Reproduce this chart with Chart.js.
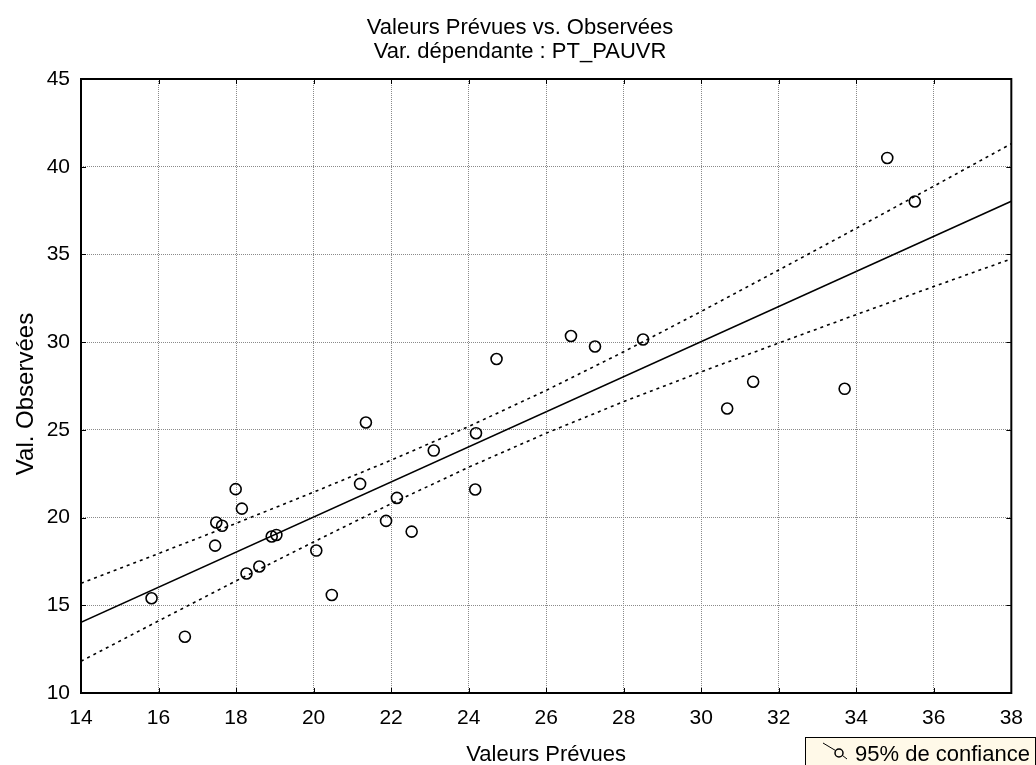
<!DOCTYPE html>
<html>
<head>
<meta charset="utf-8">
<script src="https://cdn.jsdelivr.net/npm/chart.js@4.4.1/dist/chart.umd.min.js"></script>
<style>
  html, body { margin: 0; padding: 0; background: #fff; }
  #wrap { width: 1036px; height: 765px; }
</style>
</head>
<body>
<div id="wrap"><canvas id="chart" width="1036" height="765"></canvas></div>
<script>
var predicted = [15.82, 16.68, 17.46, 17.49, 17.64, 17.99, 18.15, 18.27, 18.60, 18.92,
                 19.04, 20.07, 20.47, 21.20, 21.35, 21.87, 22.15, 22.53, 23.10, 24.19,
                 24.17, 24.72, 26.64, 27.26, 28.50, 30.67, 31.34, 33.70, 34.80, 35.51];
var observed  = [15.40, 13.21, 18.40, 19.72, 19.53, 21.62, 20.51, 16.81, 17.21, 18.92,
                 19.01, 18.12, 15.59, 21.92, 25.42, 19.81, 21.12, 19.20, 23.82, 24.81,
                 21.60, 29.04, 30.35, 29.75, 30.15, 26.22, 27.74, 27.34, 40.50, 38.02];

// fitted line and 95% band
var fitX  = [14, 38];
var fitY  = [14.03, 38.03];
var bandX = [14, 16, 18, 20, 22, 24, 26, 28, 30, 32, 34, 36, 38];
var upper = [16.25, 17.95, 19.67, 21.45, 23.27, 25.19, 27.25, 29.45, 31.75, 34.11, 36.49, 38.89, 41.31];
var lower = [11.81, 14.11, 16.39, 18.61, 20.79, 22.87, 24.81, 26.61, 28.31, 29.95, 31.57, 33.17, 34.75];

var xTicks = [14, 16, 18, 20, 22, 24, 26, 28, 30, 32, 34, 36, 38];
var yTicks = [10, 15, 20, 25, 30, 35, 40, 45];

var FONT = '"Liberation Sans", Arial, sans-serif';

function pairs(xs, ys) {
    return xs.map(function (x, i) { return { x: x, y: ys[i] }; });
}

var decor = {
    id: 'decor',
    afterDraw: function (chart) {
        var ctx = chart.ctx;
        var a = chart.chartArea;
        ctx.save();
        // inside tick marks on all four sides
        ctx.strokeStyle = '#000';
        ctx.lineWidth = 1;
        ctx.beginPath();
        chart.scales.x.ticks.forEach(function (t) {
            var px = Math.round(chart.scales.x.getPixelForValue(t.value)) + 0.5;
            ctx.moveTo(px, a.bottom); ctx.lineTo(px, a.bottom - 5);
            ctx.moveTo(px, a.top); ctx.lineTo(px, a.top + 5);
        });
        chart.scales.y.ticks.forEach(function (t) {
            var py = Math.round(chart.scales.y.getPixelForValue(t.value)) + 0.5;
            ctx.moveTo(a.left, py); ctx.lineTo(a.left + 5, py);
            ctx.moveTo(a.right, py); ctx.lineTo(a.right - 5, py);
        });
        ctx.stroke();
        // frame
        ctx.lineWidth = 2;
        ctx.strokeRect(a.left, a.top, a.right - a.left, a.bottom - a.top);

        // titles
        ctx.fillStyle = '#000';
        ctx.font = '22px ' + FONT;
        ctx.textAlign = 'center';
        ctx.textBaseline = 'alphabetic';
        ctx.fillText('Valeurs Prévues vs. Observées', 520, 34);
        ctx.fillText('Var. dépendante : PT_PAUVR', 520, 58);
        ctx.fillText('Valeurs Prévues', (a.left + a.right) / 2, 761);
        ctx.save();
        ctx.translate(33, 394);
        ctx.rotate(-Math.PI / 2);
        ctx.font = '24px ' + FONT;
        ctx.fillText('Val. Observées', 0, 0);
        ctx.restore();

        // legend box
        ctx.fillStyle = '#FFF9E8';
        ctx.fillRect(805, 737, 230, 30);
        ctx.strokeStyle = '#000';
        ctx.lineWidth = 1;
        ctx.strokeRect(805.5, 737.5, 230, 30);
        ctx.beginPath();
        ctx.moveTo(823, 743); ctx.lineTo(835.5, 750.5);
        ctx.moveTo(842.5, 755.5); ctx.lineTo(847, 759);
        ctx.stroke();
        ctx.lineWidth = 1.5;
        ctx.beginPath();
        ctx.arc(839, 753, 4, 0, Math.PI * 2);
        ctx.stroke();
        ctx.fillStyle = '#000';
        ctx.textAlign = 'left';
        ctx.font = '22px ' + FONT;
        ctx.fillText('95% de confiance', 855, 761);
        ctx.restore();
    }
};

var chart = new Chart(document.getElementById('chart'), {
    type: 'scatter',
    data: {
        datasets: [
            {
                label: 'Observées',
                data: pairs(predicted, observed),
                pointStyle: 'circle',
                pointRadius: 5.5,
                pointBorderWidth: 1.6,
                borderColor: '#000000',
                backgroundColor: 'rgba(0,0,0,0)',
                order: 0
            },
            {
                label: 'Régression',
                data: pairs(fitX, fitY),
                showLine: true,
                pointRadius: 0,
                borderWidth: 1.6,
                borderColor: '#000000',
                order: 1
            },
            {
                label: '95% sup',
                data: pairs(bandX, upper),
                showLine: true,
                pointRadius: 0,
                borderWidth: 1.6,
                borderDash: [3, 4],
                borderColor: '#000000',
                order: 2
            },
            {
                label: '95% inf',
                data: pairs(bandX, lower),
                showLine: true,
                pointRadius: 0,
                borderWidth: 1.6,
                borderDash: [3, 4],
                borderColor: '#000000',
                order: 3
            }
        ]
    },
    options: {
        responsive: false,
        animation: false,
        layout: { padding: { top: 79, right: 22, left: 0, bottom: 0 } },
        plugins: {
            legend: { display: false },
            title: { display: false },
            tooltip: { enabled: false }
        },
        scales: {
            x: {
                type: 'linear',
                min: 14,
                max: 38,
                afterBuildTicks: function (s) { s.ticks = xTicks.map(function (v) { return { value: v }; }); },
                afterFit: function (s) { s.height = 72; },
                ticks: { color: '#000', padding: 13, font: { family: FONT, size: 21 } },
                grid: { color: '#8a8a8a', lineWidth: 1, drawTicks: false },
                border: { display: false, dash: [1, 1] }
            },
            y: {
                type: 'linear',
                min: 10,
                max: 45,
                afterBuildTicks: function (s) { s.ticks = yTicks.map(function (v) { return { value: v }; }); },
                afterFit: function (s) { s.width = 81; },
                ticks: { color: '#000', padding: 11, font: { family: FONT, size: 21 } },
                grid: { color: '#8a8a8a', lineWidth: 1, drawTicks: false },
                border: { display: false, dash: [1, 1] }
            }
        }
    },
    plugins: [decor]
});
</script>
</body>
</html>
